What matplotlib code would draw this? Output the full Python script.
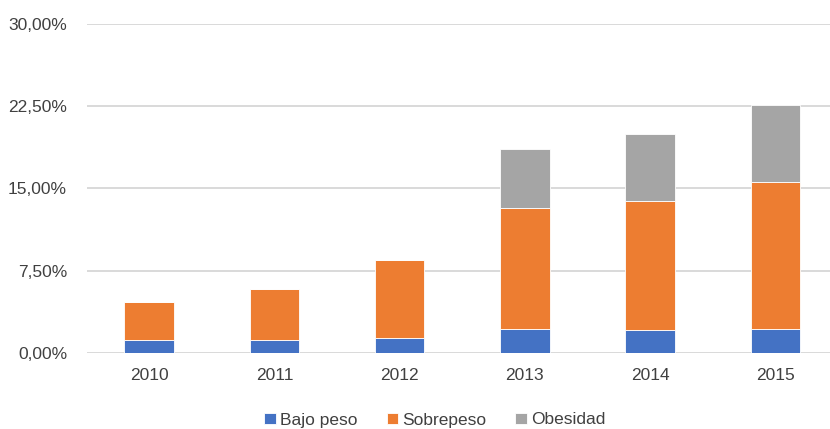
import matplotlib
matplotlib.use("Agg")
import matplotlib.pyplot as plt
import numpy as np
from matplotlib.ticker import FuncFormatter

years = ["2010", "2011", "2012", "2013", "2014", "2015"]
bajo_peso = [1.16, 1.16, 1.37, 2.16, 2.07, 2.16]
sobrepeso = [3.44, 4.62, 7.06, 11.01, 11.77, 13.41]
obesidad = [0.0, 0.0, 0.0, 5.41, 6.09, 7.06]
series_names = ["Bajo peso", "Sobrepeso", "Obesidad"]
colors = ["#4472C4", "#ED7D31", "#A5A5A5"]
yticks = [0, 7.5, 15, 22.5, 30]

plt.rcParams["font.family"] = ["Liberation Sans", "DejaVu Sans"]

W, H = 830, 429
fig = plt.figure(figsize=(W / 100, H / 100), dpi=100)
ax = fig.add_axes([86.5 / W, (H - 352.7) / H, (838 - 86.5) / W, 328.7 / H])

x = np.arange(len(years))
bw = 0.395
b1 = np.array(bajo_peso)
b2 = b1 + np.array(sobrepeso)
ax.bar(x, bajo_peso, bw, color=colors[0], label=series_names[0], zorder=3,
       edgecolor="white", linewidth=0.6)
ax.bar(x, sobrepeso, bw, bottom=b1, color=colors[1], label=series_names[1], zorder=3,
       edgecolor="white", linewidth=0.6)
ax.bar(x, obesidad, bw, bottom=b2, color=colors[2], label=series_names[2], zorder=3,
       edgecolor="white", linewidth=0.6)

ax.set_xlim(-0.5, len(years) - 0.5)
ax.set_ylim(0, 30)
ax.set_yticks(yticks)
ax.yaxis.set_major_formatter(FuncFormatter(lambda v, p: f"{v:.2f}".replace(".", ",") + "%"))
ax.set_xticks(x)
ax.set_xticklabels(years)
ax.grid(axis="y", color="#D9D9D9", linewidth=1.4, zorder=0)
for s in ax.spines.values():
    s.set_visible(False)
ax.tick_params(axis="both", length=0, labelsize=12.5, labelcolor="#404040")
ax.tick_params(axis="y", pad=14)
ax.tick_params(axis="x", pad=11)

fig.legend(loc="center", bbox_to_anchor=(434.7 / W, 1 - 420 / H), ncol=3,
           frameon=False, fontsize=12.5, handlelength=0.66, handleheight=0.66,
           handletextpad=0.22, columnspacing=1.7, borderpad=0,
           labelcolor="#404040")

fig.savefig("out.png", dpi=100)
